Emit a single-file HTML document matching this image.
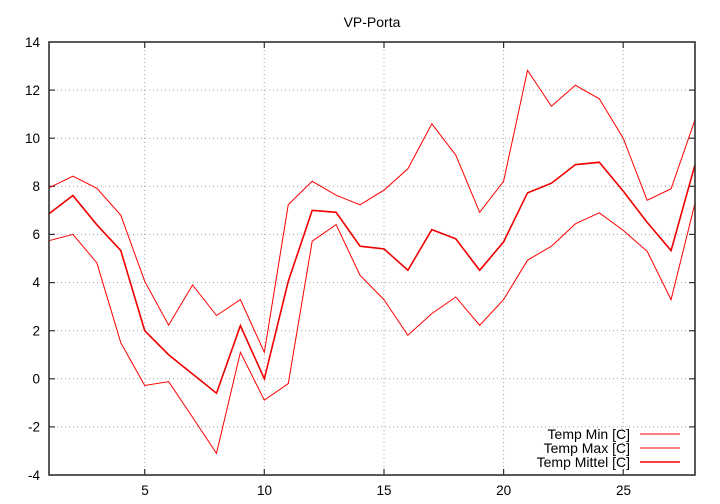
<!DOCTYPE html>
<html><head><meta charset="utf-8"><style>
html,body{margin:0;padding:0;background:#fff;}
svg{display:block;font-family:"Liberation Sans",Arial,sans-serif;}
</style></head><body>
<svg width="720" height="504" viewBox="0 0 720 504" xmlns="http://www.w3.org/2000/svg">
<rect width="720" height="504" fill="#fff"/>
<g stroke="#a0a0a0" stroke-width="1" stroke-dasharray="1,3" fill="none">
<line x1="49" y1="90.1" x2="695" y2="90.1"/>
<line x1="49" y1="138.2" x2="695" y2="138.2"/>
<line x1="49" y1="186.3" x2="695" y2="186.3"/>
<line x1="49" y1="234.4" x2="695" y2="234.4"/>
<line x1="49" y1="282.6" x2="695" y2="282.6"/>
<line x1="49" y1="330.7" x2="695" y2="330.7"/>
<line x1="49" y1="378.8" x2="695" y2="378.8"/>
<line x1="49" y1="426.9" x2="695" y2="426.9"/>
<line x1="144.7" y1="42" x2="144.7" y2="475"/>
<line x1="264.3" y1="42" x2="264.3" y2="475"/>
<line x1="384" y1="42" x2="384" y2="475"/>
<line x1="503.6" y1="42" x2="503.6" y2="475"/>
<line x1="623.2" y1="42" x2="623.2" y2="475"/>
</g>
<g stroke="#303030" stroke-width="1.2">
<line x1="49" y1="90.1" x2="55" y2="90.1"/><line x1="689" y1="90.1" x2="695" y2="90.1"/>
<line x1="49" y1="138.2" x2="55" y2="138.2"/><line x1="689" y1="138.2" x2="695" y2="138.2"/>
<line x1="49" y1="186.3" x2="55" y2="186.3"/><line x1="689" y1="186.3" x2="695" y2="186.3"/>
<line x1="49" y1="234.4" x2="55" y2="234.4"/><line x1="689" y1="234.4" x2="695" y2="234.4"/>
<line x1="49" y1="282.6" x2="55" y2="282.6"/><line x1="689" y1="282.6" x2="695" y2="282.6"/>
<line x1="49" y1="330.7" x2="55" y2="330.7"/><line x1="689" y1="330.7" x2="695" y2="330.7"/>
<line x1="49" y1="378.8" x2="55" y2="378.8"/><line x1="689" y1="378.8" x2="695" y2="378.8"/>
<line x1="49" y1="426.9" x2="55" y2="426.9"/><line x1="689" y1="426.9" x2="695" y2="426.9"/>
<line x1="144.7" y1="475" x2="144.7" y2="469"/><line x1="144.7" y1="42" x2="144.7" y2="48"/>
<line x1="264.3" y1="475" x2="264.3" y2="469"/><line x1="264.3" y1="42" x2="264.3" y2="48"/>
<line x1="384" y1="475" x2="384" y2="469"/><line x1="384" y1="42" x2="384" y2="48"/>
<line x1="503.6" y1="475" x2="503.6" y2="469"/><line x1="503.6" y1="42" x2="503.6" y2="48"/>
<line x1="623.2" y1="475" x2="623.2" y2="469"/><line x1="623.2" y1="42" x2="623.2" y2="48"/>
</g>
<g font-size="13.5" fill="#000" text-anchor="end">
<text x="40" y="47">14</text>
<text x="40" y="95">12</text>
<text x="40" y="143">10</text>
<text x="40" y="191">8</text>
<text x="40" y="239">6</text>
<text x="40" y="287">4</text>
<text x="40" y="335.5">2</text>
<text x="40" y="383.5">0</text>
<text x="40" y="431.5">-2</text>
<text x="40" y="480">-4</text>
</g>
<g font-size="13.5" fill="#000" text-anchor="middle">
<text x="145" y="495">5</text>
<text x="264.5" y="495">10</text>
<text x="384" y="495">15</text>
<text x="503.6" y="495">20</text>
<text x="623.5" y="495">25</text>
</g>
<text x="372" y="27" font-size="14" text-anchor="middle" fill="#000">VP-Porta</text>
<g transform="translate(49,475) scale(23.926,-24.056) translate(-1,4)" fill="none">
<polyline vector-effect="non-scaling-stroke" stroke="#ff0000" stroke-width="1" points="1,5.74 2,6.0 3,4.82 4,1.5 5,-0.28 6,-0.12 7,-1.6 8,-3.1 9,1.1 10,-0.89 11,-0.2 12,5.72 13,6.41 14,4.3 15,3.29 16,1.81 17,2.71 18,3.4 19,2.22 20,3.29 21,4.93 22,5.51 23,6.44 24,6.9 25,6.17 26,5.3 27,3.29 28,7.3"/>
<polyline vector-effect="non-scaling-stroke" stroke="#ff0000" stroke-width="1" points="1,7.94 2,8.42 3,7.92 4,6.8 5,4.05 6,2.23 7,3.9 8,2.63 9,3.29 10,1.1 11,7.24 12,8.21 13,7.63 14,7.23 15,7.84 16,8.73 17,10.6 18,9.3 19,6.92 20,8.21 21,12.82 22,11.33 23,12.2 24,11.64 25,10.0 26,7.42 27,7.9 28,10.77"/>
<polyline vector-effect="non-scaling-stroke" stroke="#f00000" stroke-width="1.6" points="1,6.86 2,7.62 3,6.4 4,5.33 5,2.0 6,1.0 7,0.2 8,-0.6 9,2.21 10,0.0 11,4.05 12,7.0 13,6.92 14,5.51 15,5.4 16,4.51 17,6.2 18,5.82 19,4.51 20,5.69 21,7.73 22,8.13 23,8.9 24,9.0 25,7.8 26,6.5 27,5.33 28,8.9"/>
</g>
<rect x="49" y="42" width="646" height="433" fill="none" stroke="#303030" stroke-width="1.6"/>
<g font-size="14" fill="#000" text-anchor="end">
<text x="630" y="439">Temp Min [C]</text>
<text x="630" y="453">Temp Max [C]</text>
<text x="630" y="467">Temp Mittel [C]</text>
</g>
<line x1="640" y1="434" x2="680" y2="434" stroke="#ff0000" stroke-width="1"/>
<line x1="640" y1="448" x2="680" y2="448" stroke="#ff0000" stroke-width="1"/>
<line x1="640" y1="462" x2="680" y2="462" stroke="#f00000" stroke-width="1.6"/>
</svg>
</body></html>
